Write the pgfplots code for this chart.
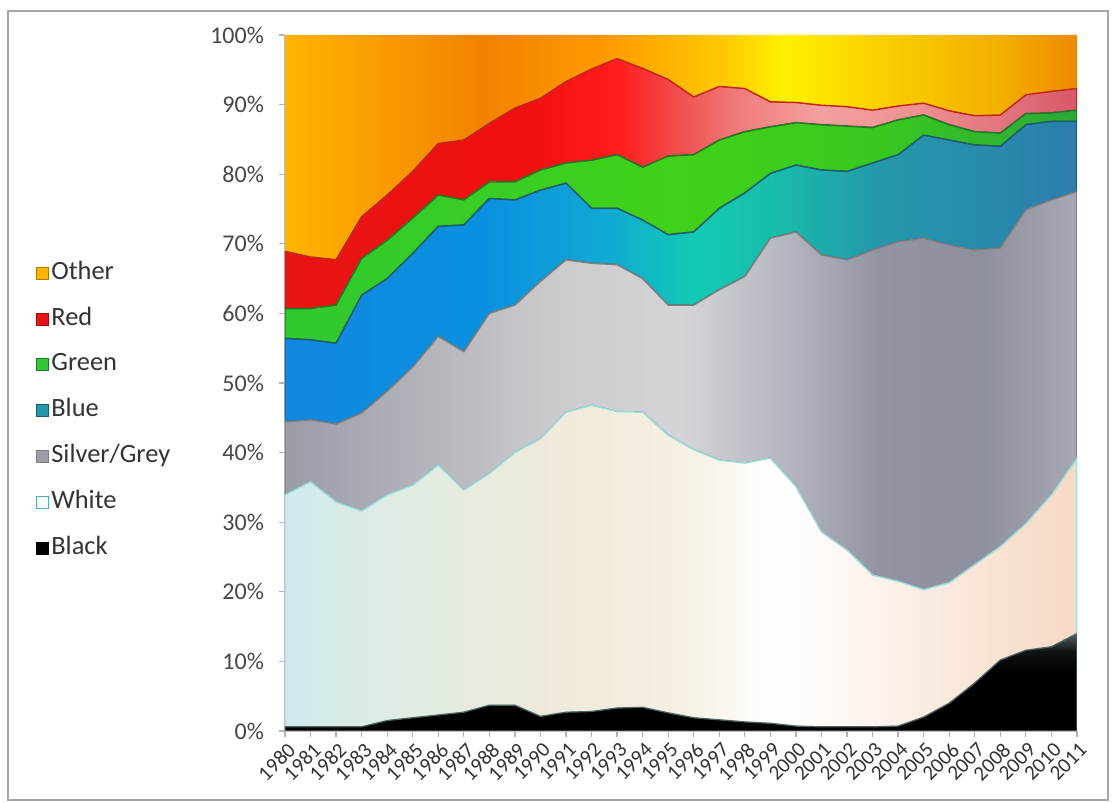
\documentclass[border=0pt]{standalone}
\usepackage{pgfplots}
\usepackage{pgfplotstable}
\pgfplotsset{compat=1.18}
\usepackage{fontspec}
\setmainfont{Carlito}

% ---- colours ----
\definecolor{othA}{HTML}{FFB400}
\definecolor{othB}{HTML}{F28200}
\definecolor{othC}{HTML}{FF9800}
\definecolor{othD}{HTML}{FFC800}
\definecolor{othE}{HTML}{FFF000}
\definecolor{othF}{HTML}{FAD000}
\definecolor{othG}{HTML}{F4B000}
\definecolor{othH}{HTML}{EE8A00}

\definecolor{redA}{HTML}{E81515}
\definecolor{redB}{HTML}{F00F0F}
\definecolor{redC}{HTML}{FF1C1C}
\definecolor{redD}{HTML}{F05050}
\definecolor{redE}{HTML}{F08080}
\definecolor{redF}{HTML}{F4A0A0}
\definecolor{redG}{HTML}{EE9090}
\definecolor{redH}{HTML}{E0707C}
\definecolor{redI}{HTML}{D85868}

\definecolor{grnA}{HTML}{30C830}
\definecolor{grnB}{HTML}{40D218}
\definecolor{grnC}{HTML}{38C820}
\definecolor{grnD}{HTML}{2CA838}

\definecolor{bluA}{HTML}{1088E0}
\definecolor{bluB}{HTML}{0A90E0}
\definecolor{bluC}{HTML}{10A8D4}
\definecolor{bluD}{HTML}{12CAB4}
\definecolor{bluE}{HTML}{18BCAA}
\definecolor{bluF}{HTML}{2498AA}
\definecolor{bluG}{HTML}{2C7EAE}

\definecolor{silA}{HTML}{9A9CA6}
\definecolor{silB}{HTML}{B0B0B8}
\definecolor{silC}{HTML}{CCCCD0}
\definecolor{silD}{HTML}{D4D4D8}
\definecolor{silE}{HTML}{B8BAC2}
\definecolor{silF}{HTML}{9294A2}
\definecolor{silG}{HTML}{8E909E}
\definecolor{silH}{HTML}{A6A8B2}

\definecolor{whtA}{HTML}{D0EAEC}
\definecolor{whtB}{HTML}{E0ECE4}
\definecolor{whtC}{HTML}{F0EADA}
\definecolor{whtD}{HTML}{F6F0E2}
\definecolor{whtE}{HTML}{FFFFFF}
\definecolor{whtF}{HTML}{FDF3EC}
\definecolor{whtG}{HTML}{F8E2D2}
\definecolor{whtH}{HTML}{F6D8C4}

\definecolor{blkTop}{HTML}{50605E}
\definecolor{blkMid}{HTML}{101414}

\definecolor{lnWhite}{HTML}{9EDCDC}
\definecolor{lnSilver}{HTML}{808080}
\definecolor{lnBlue}{HTML}{1D5E6E}
\definecolor{lnGreen}{HTML}{1E7A28}
\definecolor{lnRed}{HTML}{C0281A}

% horizontal shadings: the visible part of the path maps to 25bp..75bp
\pgfdeclarehorizontalshading{othershade}{100bp}{color(0bp)=(othA); color(25bp)=(othA); color(37.5bp)=(othB); color(45bp)=(othC); color(52.5bp)=(othD); color(56.5bp)=(othE); color(62.5bp)=(othF); color(70bp)=(othG); color(75bp)=(othH); color(100bp)=(othH)}
\pgfdeclarehorizontalshading{redshade}{100bp}{color(0bp)=(redA); color(25bp)=(redA); color(40bp)=(redB); color(46bp)=(redC); color(50bp)=(redD); color(54bp)=(redE); color(59bp)=(redF); color(65bp)=(redG); color(71bp)=(redH); color(75bp)=(redI); color(100bp)=(redI)}
\pgfdeclarehorizontalshading{greenshade}{100bp}{color(0bp)=(grnA); color(25bp)=(grnA); color(50bp)=(grnB); color(62.5bp)=(grnC); color(75bp)=(grnD); color(100bp)=(grnD)}
\pgfdeclarehorizontalshading{blueshade}{100bp}{color(0bp)=(bluA); color(25bp)=(bluA); color(37.5bp)=(bluB); color(45bp)=(bluC); color(51bp)=(bluD); color(56bp)=(bluE); color(62.5bp)=(bluF); color(75bp)=(bluG); color(100bp)=(bluG)}
\pgfdeclarehorizontalshading{silvershade}{100bp}{color(0bp)=(silA); color(25bp)=(silA); color(32.5bp)=(silB); color(42.5bp)=(silC); color(50bp)=(silD); color(56bp)=(silE); color(62.5bp)=(silF); color(69bp)=(silG); color(75bp)=(silH); color(100bp)=(silH)}
\pgfdeclarehorizontalshading{whiteshade}{100bp}{color(0bp)=(whtA); color(25bp)=(whtA); color(32.5bp)=(whtB); color(42.5bp)=(whtC); color(50bp)=(whtD); color(56bp)=(whtE); color(62.5bp)=(whtF); color(70bp)=(whtG); color(75bp)=(whtH); color(100bp)=(whtH)}
% vertical shading: 0bp is the bottom
\pgfdeclareverticalshading{blackshade}{100bp}{color(0bp)=(black); color(25bp)=(black); color(55bp)=(black); color(66bp)=(blkMid); color(75bp)=(blkTop); color(100bp)=(blkTop)}

\pgfplotsset{legsq/.style={legend image code/.code={\draw[##1, line width=0.5pt] (0pt,-3pt) rectangle (6pt,3pt);}}}

\pgfplotstableread{
year black white silver blue green red other
1980 0.6 33.3 10.5 12.0 4.3 8.2 31.1
1981 0.6 35.2 8.9 11.5 4.5 7.4 31.9
1982 0.6 32.3 11.2 11.6 5.5 6.5 32.3
1983 0.6 31.0 14.1 16.9 5.3 6.0 26.1
1984 1.5 32.4 14.9 16.2 5.5 6.5 23.0
1985 1.9 33.4 17.0 16.3 5.1 6.7 19.6
1986 2.3 35.9 18.5 15.8 4.5 7.4 15.6
1987 2.7 31.9 19.9 18.2 3.6 8.6 15.1
1988 3.7 33.3 23.0 16.5 2.4 8.4 12.7
1989 3.7 36.3 21.2 15.1 2.6 10.6 10.5
1990 2.1 39.9 22.6 13.1 2.9 10.3 9.1
1991 2.7 43.1 21.9 11.0 2.9 11.7 6.7
1992 2.8 44.0 20.4 7.9 6.9 13.1 4.9
1993 3.3 42.6 21.1 8.1 7.7 13.8 3.4
1994 3.4 42.4 19.2 8.4 7.6 14.2 4.8
1995 2.6 39.9 18.7 10.1 11.3 11.0 6.4
1996 1.9 38.5 20.8 10.5 11.1 8.3 8.9
1997 1.6 37.3 24.5 11.7 9.8 7.7 7.4
1998 1.3 37.2 26.8 12.0 8.8 6.2 7.7
1999 1.1 38.1 31.6 9.3 6.7 3.6 9.6
2000 0.7 34.4 36.6 9.6 6.1 2.9 9.7
2001 0.6 28.0 39.8 12.2 6.5 2.8 10.1
2002 0.6 25.4 41.7 12.7 6.5 2.8 10.3
2003 0.6 21.8 46.7 12.5 5.1 2.5 10.8
2004 0.7 20.8 48.8 12.5 5.0 2.0 10.2
2005 2.0 18.3 50.5 14.8 2.9 1.7 9.8
2006 4.0 17.3 48.5 15.1 2.2 2.0 10.9
2007 6.9 17.0 45.2 15.1 1.9 2.3 11.6
2008 10.2 16.3 42.9 14.6 1.9 2.6 11.5
2009 11.6 18.2 45.1 12.2 1.6 2.7 8.6
2010 12.1 21.8 42.4 11.3 1.2 3.1 8.1
2011 14.0 25.2 38.3 10.1 1.6 3.1 7.7
}\datatable

\begin{document}
\begin{tikzpicture}
\useasboundingbox (0,0) rectangle (557.5pt,401.5pt);
\fill[white] (0,0) rectangle (557.5pt,401.5pt);
\draw[gray!70, line width=0.8pt] (4pt,1.5pt) rectangle (554pt,396pt);
\begin{axis}[
  at={(142.5pt,36pt)}, anchor=south west,
  scale only axis, width=396pt, height=348pt,
  xmin=1980, xmax=2011, ymin=0, ymax=100,
  stack plots=y,
  xtick={1980,...,2011},
  ytick={0,10,20,30,40,50,60,70,80,90,100},
  yticklabels={0\%,10\%,20\%,30\%,40\%,50\%,60\%,70\%,80\%,90\%,100\%},
  /pgf/number format/assume math mode=true,
  xticklabel style={rotate=45, anchor=north east, font=\fontsize{10.5}{11}\selectfont, /pgf/number format/1000 sep={}, inner sep=1pt, yshift=-1pt, text=black!80},
  yticklabel style={font=\fontsize{12}{14}\selectfont, text=black!72, xshift=-4pt},
  axis x line*=bottom, axis y line*=left,
  axis line style={draw=gray!50, line width=0.6pt, -},
  tick align=outside, major tick length=3pt,
  tick style={gray!60, line width=0.6pt},
  legend style={at={(-0.322,0.684)}, anchor=north west, draw=none, fill=none,
    font=\fontsize{13.2}{15}\selectfont, text=black!80, row sep=8.9pt,
    nodes={inner sep=1pt, text height=9pt, text depth=3pt}},
  legend cell align=left,
]
\addplot[forget plot, draw=blkTop, line width=0.6pt, shade, shading=blackshade] table[x=year,y=black] {\datatable} \closedcycle;
\addplot[forget plot, draw=lnWhite, line width=0.75pt, shade, shading=whiteshade] table[x=year,y=white] {\datatable} \closedcycle;
\addplot[forget plot, draw=lnSilver, line width=0.75pt, shade, shading=silvershade] table[x=year,y=silver] {\datatable} \closedcycle;
\addplot[forget plot, draw=lnBlue, line width=0.75pt, shade, shading=blueshade] table[x=year,y=blue] {\datatable} \closedcycle;
\addplot[forget plot, draw=lnGreen, line width=0.75pt, shade, shading=greenshade] table[x=year,y=green] {\datatable} \closedcycle;
\addplot[forget plot, draw=lnRed, line width=0.75pt, shade, shading=redshade] table[x=year,y=red] {\datatable} \closedcycle;
\addplot[forget plot, draw=none, shade, shading=othershade] table[x=year,y=other] {\datatable} \closedcycle;

\addlegendimage{legsq, fill=othA, draw=othG!70!black}
\addlegendentry{Other}
\addlegendimage{legsq, fill=redA, draw=redA!70!black}
\addlegendentry{Red}
\addlegendimage{legsq, fill=grnA, draw=grnD!70!black}
\addlegendentry{Green}
\addlegendimage{legsq, fill=bluF, draw=lnBlue}
\addlegendentry{Blue}
\addlegendimage{legsq, fill=silA, draw=silA!80!black}
\addlegendentry{Silver/Grey}
\addlegendimage{legsq, fill=white, draw=bluF!80!white}
\addlegendentry{White}
\addlegendimage{legsq, fill=black, draw=black}
\addlegendentry{Black}
\end{axis}
\end{tikzpicture}
\end{document}
